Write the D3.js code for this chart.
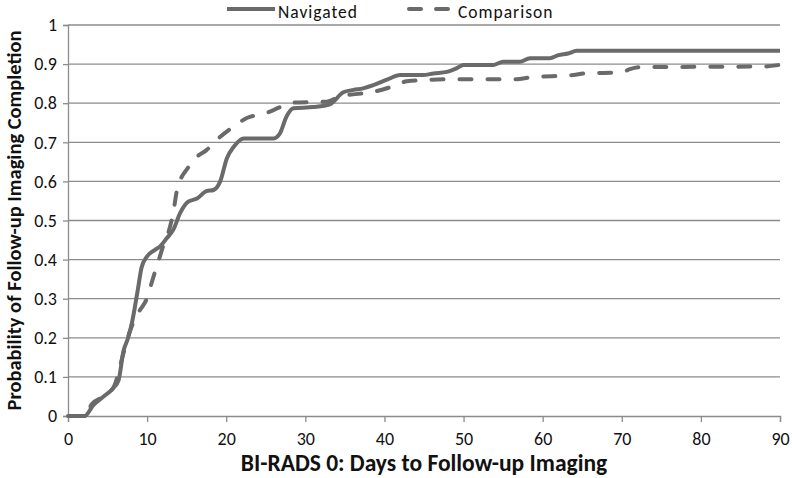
<!DOCTYPE html>
<html>
<head>
<meta charset="utf-8">
<script src="https://cdn.jsdelivr.net/npm/d3@7"></script>
<style>
  body { margin: 0; background: #fff; }
  text { font-family: Carlito, Calibri, Lato, sans-serif; fill: #111; }
</style>
</head>
<body>
<div id="chart"></div>
<script>
// days since BI-RADS 0 result
var navigatedDays = [0, 2.1, 3.2, 4.5, 5.7, 6.4, 7.0, 7.6, 8.1, 8.8, 9.3, 9.95, 11.0, 11.6, 12.5, 13.3, 14.2, 15.2, 16.3, 17.5, 18.4, 19.2, 20.1, 21.0, 22.2, 26, 26.8, 27.6, 28.5, 31, 33.1, 34.8, 36.1, 37.3, 38.6, 40.3, 42, 44.9, 46.2, 47.9, 49.1, 50, 53.8, 55, 57.1, 58.4, 60.9, 62, 63.2, 64.3, 90];
var navigatedProb = [0, 0, 0.028, 0.05, 0.071, 0.092, 0.165, 0.2, 0.24, 0.32, 0.38, 0.407, 0.425, 0.433, 0.455, 0.476, 0.52, 0.548, 0.556, 0.575, 0.578, 0.598, 0.66, 0.69, 0.71, 0.71, 0.723, 0.765, 0.787, 0.79, 0.797, 0.828, 0.834, 0.838, 0.846, 0.86, 0.872, 0.872, 0.876, 0.88, 0.889, 0.898, 0.898, 0.906, 0.906, 0.915, 0.915, 0.923, 0.927, 0.934, 0.934];

var comparisonDays = [0, 2.1, 3.0, 4.5, 5.8, 7.0, 7.8, 8.5, 9.1, 9.9, 10.8, 11.6, 12.0, 12.7, 13.3, 13.8, 14.2, 15, 16.3, 17.5, 18.8, 20.9, 22.6, 25.1, 26.8, 28.1, 32.7, 34.4, 38.6, 41.5, 42.8, 47.9, 56.7, 58.4, 63.9, 65.3, 70, 71, 72.3, 88, 90];
var comparisonProb = [0, 0, 0.03, 0.05, 0.075, 0.16, 0.215, 0.25, 0.271, 0.297, 0.356, 0.407, 0.433, 0.47, 0.52, 0.58, 0.604, 0.63, 0.663, 0.68, 0.706, 0.74, 0.762, 0.775, 0.79, 0.801, 0.804, 0.817, 0.829, 0.846, 0.856, 0.861, 0.861, 0.866, 0.872, 0.876, 0.879, 0.887, 0.892, 0.894, 0.898];

var xTicks = [0, 10, 20, 30, 40, 50, 60, 70, 80, 90];
var yTicks = [0, 0.1, 0.2, 0.3, 0.4, 0.5, 0.6, 0.7, 0.8, 0.9, 1];

var margin = {top: 25, right: 12, bottom: 62, left: 68},
    width = 792 - margin.left - margin.right,
    height = 478 - margin.top - margin.bottom,
    lineColor = "#6a6a6a",
    gridColor = "#8c8c8c";

var svg = d3.select("#chart")
  .append("svg")
  .attr("width", 792)
  .attr("height", 478);

var g = svg.append("g")
  .attr("transform", "translate(" + margin.left + "," + margin.top + ")");

var x = d3.scaleLinear().domain([0, 90]).range([0, width]);
var y = d3.scaleLinear().domain([0, 1]).range([height, 0]);

// horizontal gridlines
g.selectAll(".grid")
  .data(yTicks.slice(1))
  .enter()
  .append("line")
  .attr("class", "grid")
  .attr("x1", 0)
  .attr("x2", width)
  .attr("y1", function(d) { return y(d); })
  .attr("y2", function(d) { return y(d); })
  .style("stroke", gridColor)
  .style("stroke-width", 1.3);

var xAxis = d3.axisBottom(x)
  .tickValues(xTicks)
  .tickSize(6)
  .tickPadding(10)
  .tickFormat(d3.format("d"));

var yAxis = d3.axisLeft(y)
  .tickValues(yTicks)
  .tickSize(5)
  .tickPadding(6)
  .tickFormat(function(d) { return d === 0 || d === 1 ? String(d) : d3.format(".1f")(d); });

var xg = g.append("g")
  .attr("transform", "translate(0," + height + ")")
  .call(xAxis);
var yg = g.append("g").call(yAxis);

[xg, yg].forEach(function(ax) {
  ax.select(".domain").style("stroke", gridColor).style("stroke-width", 1.3);
  ax.selectAll(".tick line").style("stroke", gridColor).style("stroke-width", 1.3);
  ax.selectAll(".tick text")
    .style("font-size", "18px")
    .style("fill", "#111")
    .style("font-family", "Carlito, Calibri, Lato, sans-serif");
});

var line = d3.line()
  .x(function(d) { return x(d[0]); })
  .y(function(d) { return y(d[1]); })
  .curve(d3.curveMonotoneX);

var navData = navigatedDays.map(function(d, i) { return [d, navigatedProb[i]]; });
var compData = comparisonDays.map(function(d, i) { return [d, comparisonProb[i]]; });

g.append("path")
  .datum(compData)
  .attr("d", line)
  .style("fill", "none")
  .style("stroke", lineColor)
  .style("stroke-width", 4)
  .style("stroke-linecap", "round")
  .style("stroke-dasharray", "12,16");

g.append("path")
  .datum(navData)
  .attr("d", line)
  .style("fill", "none")
  .style("stroke", lineColor)
  .style("stroke-width", 4)
  .style("stroke-linejoin", "round");

// legend
var legend = svg.append("g");
legend.append("line")
  .attr("x1", 227).attr("x2", 275).attr("y1", 9).attr("y2", 9)
  .style("stroke", lineColor).style("stroke-width", 4);
legend.append("text")
  .attr("x", 278).attr("y", 17.5)
  .style("font-size", "17.5px")
  .style("letter-spacing", "1px")
  .text("Navigated");
legend.append("line")
  .attr("x1", 409).attr("x2", 448).attr("y1", 9).attr("y2", 9)
  .style("stroke", lineColor).style("stroke-width", 4)
  .style("stroke-linecap", "round")
  .style("stroke-dasharray", "12,15");
legend.append("text")
  .attr("x", 458).attr("y", 17.5)
  .style("font-size", "17.5px")
  .style("letter-spacing", "1px")
  .text("Comparison");

// axis titles
svg.append("text")
  .attr("x", margin.left + width / 2)
  .attr("y", 471)
  .attr("text-anchor", "middle")
  .style("font-size", "23.5px")
  .style("font-weight", "bold")
  .text("BI-RADS 0: Days to Follow-up Imaging");

svg.append("text")
  .attr("transform", "translate(21," + (margin.top + height / 2) + ") rotate(-90)")
  .attr("text-anchor", "middle")
  .style("font-size", "20.5px")
  .style("font-weight", "bold")
  .text("Probability of Follow-up Imaging Completion");
</script>
</body>
</html>
